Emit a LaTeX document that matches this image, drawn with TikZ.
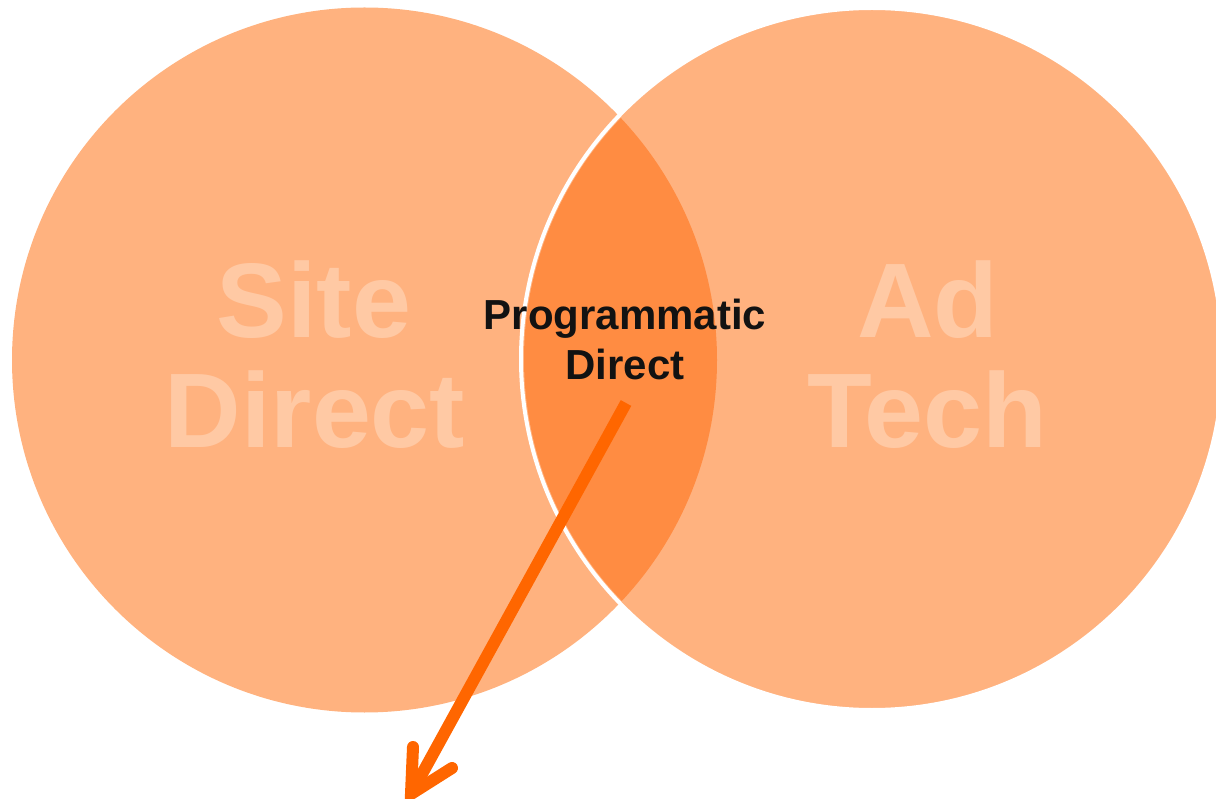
\documentclass[tikz,border=0pt]{standalone}
\usepackage{fontspec}
\setmainfont{Liberation Sans}
\definecolor{lightor}{HTML}{FFB27F}
\definecolor{lensor}{HTML}{FF8C42}
\definecolor{arrowor}{HTML}{FF6600}
\definecolor{fadetxt}{HTML}{FFC9A4}
\begin{document}
\begin{tikzpicture}[x=1pt,y=-1pt,
  bigtxt/.style={text=fadetxt,font=\fontsize{106}{110}\selectfont\bfseries,align=center,inner sep=0pt},
  midtxt/.style={text=black!93,font=\fontsize{42}{50}\selectfont\bfseries,align=center,inner sep=0pt},
  arrowline/.style={draw=arrowor,line width=12}]
\useasboundingbox (0,0) rectangle (1216,799);
\fill[lightor] (364.5,360) circle[radius=352.5];
\filldraw[fill=lightor,draw=white,line width=4] (872,359) circle[radius=351];
\begin{scope}
  \clip (364.5,360) circle[radius=352.5];
  \fill[lensor] (872,359) circle[radius=348];
\end{scope}
\node[bigtxt,anchor=base] (sd1) at (314,338) {Site};
\node[bigtxt,anchor=base] (sd2) at (315,448) {Direct};
\node[bigtxt,anchor=base] (at1) at (928,338) {Ad};
\node[bigtxt,anchor=base] (at2) at (927,448) {Tech};
\node[midtxt,anchor=base] (pd1) at (625,330) {Programmatic};
\node[midtxt,anchor=base] (pd2) at (625,380) {Direct};
\coordinate (as) at (626,403);
\coordinate (tip) at (411,794);
\coordinate (w1) at (413,747);
\coordinate (w2) at (452,768);
\draw[arrowline] (as) -- (tip);
\draw[arrowline,line cap=round,line join=miter] (w1) -- (tip) -- (w2);
\end{tikzpicture}
\end{document}
